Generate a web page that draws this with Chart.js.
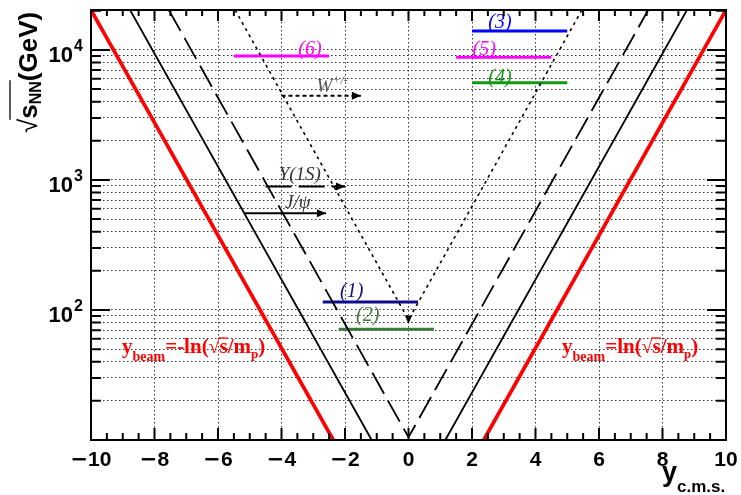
<!DOCTYPE html>
<html>
<head>
<meta charset="utf-8">
<script src="https://cdn.jsdelivr.net/npm/chart.js@4.4.0/dist/chart.umd.min.js"></script>
<style>
  body { margin: 0; background: #fff; }
  canvas { display: block; }
</style>
</head>
<body>
<canvas id="chart" width="741" height="495"></canvas>
<script>
// frame range: rapidity and sqrt(s_NN) in GeV
const xRange = [-10, 10];
const yRange = [10, 20300];

// kinematic limits, end points read at the frame edges
const beamLeft = [{x: -10, y: 20300}, {x: -2.37, y: 10}];
const beamRight = [{x: 2.37, y: 10}, {x: 10, y: 20300}];
const jpsiLeft = [{x: -8.77, y: 20300}, {x: -1.16, y: 10}];
const jpsiRight = [{x: 1.16, y: 10}, {x: 8.77, y: 20300}];
const upsilonV = [{x: -7.55, y: 20300}, {x: 0, y: 10.5}, {x: 7.55, y: 20300}];
const wV = [{x: -5.46, y: 20300}, {x: 0, y: 84}, {x: 5.46, y: 20300}];

// experiments: rapidity coverage at a given energy
const expNames = ['(1)', '(2)', '(3)', '(4)', '(5)', '(6)'];
const expYFrom = [-2.7, -2.2, 2.0, 2.0, 1.5, -5.5];
const expYTo = [0.3, 0.8, 5.0, 5.0, 4.5, -2.5];
const expSqrtS = [115, 71, 14000, 5600, 8800, 9000];

// particle arrows
const arrowNames = ['W', '\u03a5(1S)', 'J/\u03c8'];
const arrowFrom = [-4.0, -4.5, -5.15];
const arrowTo = [-1.5, -2.0, -2.6];
const arrowSqrtS = [4450, 890, 555];

// ticks
const xTickValues = [-10, -8, -6, -4, -2, 0, 2, 4, 6, 8, 10];
const yLabelValues = [100, 1000, 10000];
const yLabelExps = ['2', '3', '4'];
const yGridValues = [20, 30, 40, 50, 60, 70, 80, 90,
  100, 200, 300, 400, 500, 600, 700, 800, 900,
  1000, 2000, 3000, 4000, 5000, 6000, 7000, 8000, 9000, 10000, 20000];

const expColors = ['#0d0d8c', '#3b7a3b', '#0000ff', '#129912', '#ff00ff', '#ff00ff'];
const expLabelOffsets = [[29, -10], [29, -14], [28, -8], [28, -5], [28, -7], [76, -6]];
const arrowDashes = [[4, 3], [26, 7], []];
const arrowLabelOffsets = [[35, -9], [13, -12], [40, -10]];

function lineDs(data, color, width, dash, extra) {
  return Object.assign({
    data: data, showLine: true, borderColor: color, borderWidth: width,
    borderDash: dash || [], pointRadius: 0, pointHoverRadius: 0, fill: false, tension: 0
  }, extra || {});
}

const datasets = [
  lineDs(beamLeft, '#ff0000', 3.7),
  lineDs(beamRight, '#ff0000', 3.7),
  lineDs(jpsiLeft, '#000', 1.8),
  lineDs(jpsiRight, '#000', 1.8),
  lineDs(upsilonV, '#000', 1.8, [24, 8]),
  lineDs(wV, '#000', 1.6, [3, 4], {kind: 'wv'})
];
expNames.forEach((n, i) => {
  datasets.push(lineDs([{x: expYFrom[i], y: expSqrtS[i]}, {x: expYTo[i], y: expSqrtS[i]}],
    expColors[i], 3, [], {kind: 'exp', idx: i, borderCapStyle: 'butt'}));
});
arrowNames.forEach((n, i) => {
  datasets.push(lineDs([{x: arrowFrom[i], y: arrowSqrtS[i]}, {x: arrowTo[i], y: arrowSqrtS[i]}],
    '#000', 2, arrowDashes[i], {kind: 'arrow', idx: i}));
});

// draws a run of text pieces, returns end x
function drawRuns(ctx, x, y, runs) {
  for (const r of runs) {
    ctx.font = r.font;
    ctx.fillText(r.text, x, y + (r.dy || 0));
    const m = ctx.measureText(r.text);
    if (r.overline) {
      ctx.save();
      ctx.lineWidth = 1.2;
      ctx.strokeStyle = ctx.fillStyle;
      ctx.beginPath();
      ctx.moveTo(x - 1, y - r.overline);
      ctx.lineTo(x + m.width, y - r.overline);
      ctx.stroke();
      ctx.restore();
    }
    x += m.width;
  }
  return x;
}

function arrowHead(ctx, x, y, dir) {
  ctx.beginPath();
  if (dir === 'right') {
    ctx.moveTo(x, y); ctx.lineTo(x - 9, y - 4); ctx.lineTo(x - 9, y + 4);
  } else {
    ctx.moveTo(x, y); ctx.lineTo(x - 3.5, y - 8); ctx.lineTo(x + 3.5, y - 8);
  }
  ctx.closePath();
  ctx.fill();
}

const framePlugin = {
  id: 'frame',
  afterDraw(chart) {
    const ctx = chart.ctx;
    const a = chart.chartArea;
    const xs = chart.scales.x, ys = chart.scales.y;
    ctx.save();

    // annotations on the datasets
    chart.data.datasets.forEach((ds, di) => {
      const pts = chart.getDatasetMeta(di).data;
      if (ds.kind === 'exp') {
        const off = expLabelOffsets[ds.idx];
        ctx.fillStyle = expColors[ds.idx];
        ctx.font = 'italic 20px "Liberation Serif"';
        ctx.textAlign = 'center';
        ctx.textBaseline = 'middle';
        ctx.fillText(expNames[ds.idx], pts[0].x + off[0], pts[0].y + off[1]);
      } else if (ds.kind === 'arrow') {
        ctx.fillStyle = '#000';
        arrowHead(ctx, pts[1].x, pts[1].y, 'right');
        const off = arrowLabelOffsets[ds.idx];
        ctx.textAlign = 'left';
        ctx.textBaseline = 'middle';
        if (ds.idx === 0) {
          ctx.fillStyle = '#555';
          drawRuns(ctx, pts[0].x + off[0], pts[0].y + off[1], [
            {text: 'W', font: 'italic 19px "Liberation Serif"'},
            {text: '+/-', font: 'italic 12px "Liberation Serif"', dy: -6}
          ]);
        } else {
          ctx.fillStyle = '#333';
          ctx.font = 'italic 19px "Liberation Serif"';
          ctx.fillText(arrowNames[ds.idx], pts[0].x + off[0], pts[0].y + off[1]);
        }
      } else if (ds.kind === 'wv') {
        ctx.fillStyle = '#000';
        arrowHead(ctx, pts[1].x, pts[1].y + 4, 'down');
      }
    });

    // red beam rapidity formulas
    ctx.fillStyle = '#ff0000';
    ctx.textAlign = 'left';
    ctx.textBaseline = 'alphabetic';
    const big = 'bold 21px "Liberation Serif"';
    const beamRuns = (sign) => [
      {text: 'y', font: big},
      {text: 'beam', font: 'bold 14px "Liberation Serif"', dy: 8},
      {text: '=' + sign + 'ln(', font: big},
      {text: '\u221a', font: '20px "Liberation Serif"'},
      {text: 's', font: big, overline: 15},
      {text: '/m', font: big},
      {text: 'p', font: 'bold 13px "Liberation Serif"', dy: 5},
      {text: ')', font: big}
    ];
    drawRuns(ctx, 122, 353, beamRuns('-'));
    drawRuns(ctx, 562, 353, beamRuns(''));

    // frame
    ctx.strokeStyle = '#000';
    ctx.lineWidth = 2;
    ctx.strokeRect(a.left, a.top, a.right - a.left, a.bottom - a.top);

    // ticks pointing inside
    ctx.lineWidth = 2;
    ctx.beginPath();
    for (let v = xRange[0]; v <= xRange[1]; v += 0.5) {
      const px = xs.getPixelForValue(v);
      const major = xTickValues.includes(v);
      ctx.moveTo(px, a.bottom); ctx.lineTo(px, a.bottom - (major ? 12 : 7));
      ctx.moveTo(px, a.top); ctx.lineTo(px, a.top + (major ? 11 : 6));
    }
    yGridValues.forEach(v => {
      const py = ys.getPixelForValue(v);
      const major = yLabelValues.includes(v);
      ctx.moveTo(a.left, py); ctx.lineTo(a.left + (major ? 19 : 10), py);
      ctx.moveTo(a.right, py); ctx.lineTo(a.right - (major ? 19 : 10), py);
    });
    ctx.stroke();

    // x tick labels
    ctx.fillStyle = '#000';
    ctx.textBaseline = 'alphabetic';
    xTickValues.forEach(v => {
      const px = xs.getPixelForValue(v);
      const digits = String(Math.abs(v));
      ctx.font = 'bold 21px "DejaVu Sans"';
      const mw = v < 0 ? ctx.measureText('\u2212').width : 0;
      ctx.font = 'bold 21px "Liberation Sans"';
      const dw = ctx.measureText(digits).width;
      let x0 = px - (mw + dw) / 2;
      ctx.textAlign = 'left';
      if (v < 0) {
        ctx.font = 'bold 21px "DejaVu Sans"';
        ctx.fillText('\u2212', x0, 466);
        x0 += mw;
      }
      ctx.font = 'bold 21px "Liberation Sans"';
      ctx.fillText(digits, x0, 466);
    });

    // y tick labels
    yLabelValues.forEach((v, i) => {
      const py = ys.getPixelForValue(v);
      ctx.textAlign = 'right';
      ctx.font = 'bold 22px "Liberation Sans"';
      ctx.fillText('10', 73, py + 12);
      ctx.textAlign = 'left';
      ctx.font = 'bold 16px "Liberation Sans"';
      ctx.fillText(yLabelExps[i], 74, py + 1);
    });

    // x title
    ctx.textAlign = 'left';
    drawRuns(ctx, 662, 481, [
      {text: 'y', font: 'bold 27px "Liberation Sans"'},
      {text: 'c.m.s.', font: 'bold 17px "Liberation Sans"', dy: 11}
    ]);

    // y title, rotated
    ctx.translate(37, 133);
    ctx.rotate(-Math.PI / 2);
    ctx.font = '26px "Liberation Sans"';
    ctx.fillText('\u221a', 0, 0);
    let u = ctx.measureText('\u221a').width;
    const u0 = u;
    ctx.font = 'bold 26px "Liberation Sans"';
    ctx.fillText('s', u, 0);
    u += ctx.measureText('s').width;
    ctx.font = 'bold 16px "Liberation Sans"';
    ctx.fillText('NN', u, 4);
    u += ctx.measureText('NN').width;
    ctx.lineWidth = 1.3;
    ctx.beginPath();
    ctx.moveTo(u0 - 1, -27); ctx.lineTo(u + 1, -27);
    ctx.stroke();
    ctx.font = 'bold 26px "Liberation Sans"';
    ctx.fillText('(GeV)', u, 0);

    ctx.restore();
  }
};

new Chart(document.getElementById('chart'), {
  type: 'scatter',
  data: { datasets: datasets },
  options: {
    responsive: false,
    devicePixelRatio: 1,
    animation: false,
    events: [],
    layout: { padding: { left: 91, right: 15, top: 10, bottom: 55 } },
    plugins: { legend: { display: false }, tooltip: { enabled: false } },
    scales: {
      x: {
        type: 'linear', min: xRange[0], max: xRange[1],
        afterBuildTicks: axis => { axis.ticks = xTickValues.map(v => ({value: v})); },
        ticks: { display: false },
        grid: { color: '#333', lineWidth: 1, drawTicks: false },
        border: { display: false, dash: [1.5, 2.5] }
      },
      y: {
        type: 'logarithmic', min: yRange[0], max: yRange[1],
        afterBuildTicks: axis => { axis.ticks = yGridValues.map(v => ({value: v})); },
        ticks: { display: false },
        grid: { color: '#333', lineWidth: 1, drawTicks: false },
        border: { display: false, dash: [1.5, 2.5] }
      }
    }
  },
  plugins: [framePlugin]
});
</script>
</body>
</html>
